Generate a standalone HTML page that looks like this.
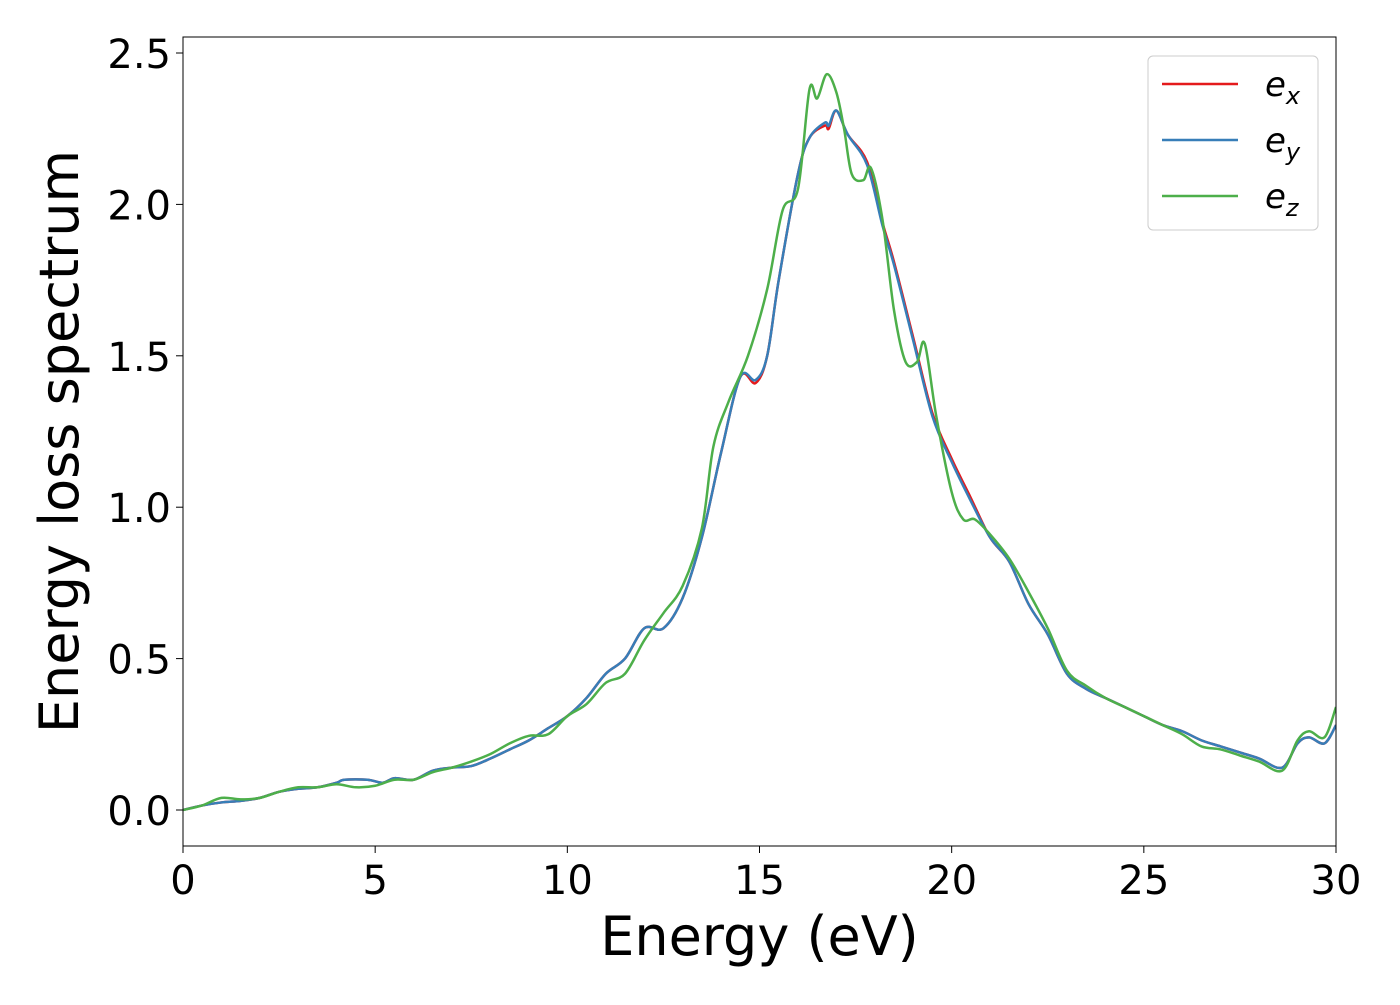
<!DOCTYPE html>
<html><head><meta charset="utf-8"><style>
body{margin:0;background:#fff}
svg text{font-family:"DejaVu Sans","Liberation Sans",sans-serif;fill:#000}
</style></head><body>
<svg id="chart" width="1400" height="1000" viewBox="0 0 1400 1000" xmlns="http://www.w3.org/2000/svg">
<g id="plot"></g>
</svg>
<script>
const xTicks=[0,5,10,15,20,25,30];
const yTicks=[0.0,0.5,1.0,1.5,2.0,2.5];
const blueE=[0,0.5,1,1.5,2,2.5,3,3.5,4,4.2,4.8,5.2,5.5,6,6.5,7,7.5,8,8.5,9,9.5,10,10.5,11,11.5,12,12.5,13,13.5,14,14.5,14.9,15.2,15.5,16,16.3,16.7,16.8,17,17.3,17.8,18.2,18.5,19,19.5,20,20.5,21,21.5,22,22.5,23,23.5,24,24.5,25,25.5,26,26.5,27,27.5,28,28.6,29,29.3,29.7,30];
const blueV=[0,0.015,0.025,0.03,0.04,0.06,0.07,0.075,0.09,0.1,0.1,0.09,0.105,0.1,0.13,0.14,0.145,0.17,0.2,0.23,0.27,0.31,0.37,0.45,0.5,0.6,0.6,0.7,0.9,1.18,1.43,1.42,1.5,1.75,2.1,2.22,2.27,2.26,2.31,2.23,2.13,1.93,1.8,1.55,1.3,1.15,1.02,0.9,0.82,0.68,0.58,0.45,0.4,0.37,0.34,0.31,0.28,0.26,0.23,0.21,0.19,0.17,0.14,0.22,0.24,0.22,0.28];
const redV=[0,0.015,0.025,0.03,0.04,0.06,0.07,0.075,0.09,0.1,0.1,0.09,0.105,0.1,0.13,0.14,0.145,0.17,0.2,0.23,0.27,0.31,0.37,0.45,0.5,0.6,0.6,0.7,0.9,1.18,1.43,1.41,1.5,1.75,2.1,2.22,2.26,2.25,2.31,2.23,2.14,1.94,1.81,1.56,1.31,1.16,1.03,0.9,0.82,0.68,0.58,0.45,0.4,0.37,0.34,0.31,0.28,0.26,0.23,0.21,0.19,0.17,0.14,0.22,0.24,0.22,0.28];
const greenE=[0,0.5,1,1.5,2,2.5,3,3.5,4,4.5,5,5.5,6,6.5,7,7.5,8,8.5,9,9.5,10,10.5,11,11.5,12,12.5,13,13.5,13.8,14.2,14.7,15.2,15.6,16,16.3,16.5,16.75,17,17.2,17.4,17.7,17.9,18.2,18.5,18.8,19.1,19.3,19.6,20,20.3,20.6,21,21.5,22,22.5,23,23.5,24,24.5,25,25.5,26,26.5,27,27.5,28,28.6,29,29.3,29.7,30];
const greenV=[0,0.015,0.04,0.035,0.04,0.06,0.075,0.075,0.085,0.075,0.08,0.1,0.1,0.125,0.14,0.16,0.185,0.22,0.245,0.25,0.31,0.35,0.42,0.45,0.56,0.65,0.74,0.93,1.2,1.35,1.5,1.72,1.98,2.05,2.38,2.35,2.43,2.37,2.25,2.1,2.08,2.12,1.95,1.65,1.48,1.48,1.54,1.3,1.05,0.96,0.96,0.91,0.83,0.72,0.6,0.46,0.41,0.37,0.34,0.31,0.28,0.25,0.21,0.2,0.18,0.16,0.13,0.23,0.26,0.24,0.34];

const L=183,R=1336,T=37,B=846;
const xs=v=>L+(v-0)/30*(R-L);
const ys=v=>810-v*(810-53)/2.5;
const NS="http://www.w3.org/2000/svg";
const g=document.getElementById('plot');
function mk(tag,attrs,parent){const e=document.createElementNS(NS,tag);for(const k in attrs)e.setAttribute(k,attrs[k]);(parent||g).appendChild(e);return e;}
function smooth(E,V){const p=E.map((e,i)=>[xs(e),ys(V[i])]);let d=`M${p[0][0]},${p[0][1]}`;for(let i=0;i<p.length-1;i++){const p0=p[Math.max(i-1,0)],p1=p[i],p2=p[i+1],p3=p[Math.min(i+2,p.length-1)];const c1=[p1[0]+(p2[0]-p0[0])/6,p1[1]+(p2[1]-p0[1])/6],c2=[p2[0]-(p3[0]-p1[0])/6,p2[1]-(p3[1]-p1[1])/6];d+=`C${c1[0]},${c1[1]} ${c2[0]},${c2[1]} ${p2[0]},${p2[1]}`;}return d;}
const cp=mk('clipPath',{id:'clip'});mk('rect',{x:L,y:T,width:R-L,height:B-T},cp);
const series=[['series-ex',blueE,redV,'#e41a1c'],['series-ey',blueE,blueV,'#377eb8'],['series-ez',greenE,greenV,'#4daf4a']];
series.forEach(s=>{const p=mk('path',{d:smooth(s[1],s[2]),fill:'none',stroke:s[3],'stroke-width':2.5,'clip-path':'url(#clip)'});

});
const frame=mk('rect',{x:L,y:T,width:R-L,height:B-T,fill:'none',stroke:'#000','stroke-width':1});


xTicks.forEach(t=>{const x=xs(t);mk('line',{x1:x,x2:x,y1:B,y2:B+7,stroke:'#000','stroke-width':1});
const tx=mk('text',{x:x,y:B+48,'font-size':40,'text-anchor':'middle'});tx.textContent=t;

});
yTicks.forEach(t=>{const y=ys(t);mk('line',{x1:L-7,x2:L,y1:y,y2:y,stroke:'#000','stroke-width':1});
const tx=mk('text',{x:L-12,y:y+15,'font-size':40,'text-anchor':'end'});tx.textContent=t.toFixed(1);

});
const xt=mk('text',{x:(L+R)/2,y:955,'font-size':54,'text-anchor':'middle'});xt.textContent='Energy (eV)';


const yt=mk('text',{x:0,y:0,'font-size':54,'text-anchor':'middle',transform:`translate(78,${(T+B)/2}) rotate(-90)`});yt.textContent='Energy loss spectrum';


const lg=mk('g',{});


mk('rect',{x:1148,y:56,width:170,height:174,rx:5,fill:'#fff',stroke:'#ccc','stroke-width':1},lg);
const subs=['x','y','z'];
series.forEach((s,i)=>{const y=84+i*56;mk('line',{x1:1162,x2:1238,y1:y,y2:y,stroke:s[3],'stroke-width':2.5},lg);
const tx=mk('text',{x:1265,y:y+12,'font-size':34,'font-style':'italic'},lg);tx.textContent='e';
const sb=mk('tspan',{'font-size':24,dy:8},tx);sb.textContent=subs[i];

});
</script>
</body></html>
